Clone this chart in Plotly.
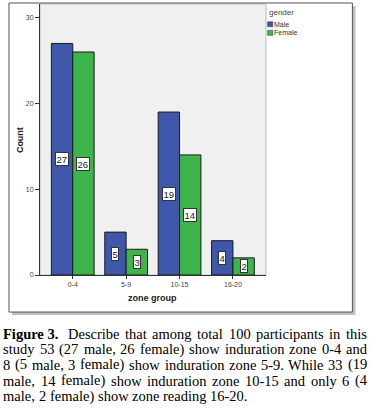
import plotly.graph_objects as go

# ---------------- data ----------------
zone_groups = ["0-4", "5-9", "10-15", "16-20"]
male_counts = [27, 5, 19, 4]
female_counts = [26, 3, 14, 2]
y_ticks = [0, 10, 20, 30]
series_names = ["Male", "Female"]
legend_title = "gender"
x_title = "zone group"
y_title = "Count"
caption_lines = [
    "Figure 3. Describe that among total 100 participants in this",
    "study 53 (27 male, 26 female) show induration zone 0-4 and",
    "8 (5 male, 3 female) show induration zone 5-9. While 33 (19",
    "male, 14 female) show induration zone 10-15 and only 6 (4",
    "male, 2 female) show zone reading 16-20.",
]

# ---------------- layout geometry (pixels) ----------------
W, H = 372, 409
PL, PR, PT, PB = 40, 265.7, 4, 274.7
BLUE = "#3E57AB"
GREEN = "#3DB54A"


def px(x):
    return (x - PL) / (PR - PL)


def py(y):
    return (PB - y) / (PB - PT)


fig = go.Figure()
fig.add_trace(go.Bar(x=zone_groups, y=male_counts, name=series_names[0],
                     marker=dict(color=BLUE, line=dict(color="#1a1a1a", width=1)),
                     showlegend=False, hoverinfo="x+y+name"))
fig.add_trace(go.Bar(x=zone_groups, y=female_counts, name=series_names[1],
                     marker=dict(color=GREEN, line=dict(color="#1a1a1a", width=1)),
                     showlegend=False, hoverinfo="x+y+name"))

shapes = []
# plot background
shapes.append(dict(type="rect", xref="paper", yref="paper", layer="below",
                   x0=0, x1=1, y0=0, y1=1,
                   fillcolor="#F0F0F0", line=dict(color="#BDBDBD", width=1)))
# frame shadow (right + bottom strips) and frame outline
FX0, FX1, FY0, FY1 = 9, 352, 3, 311.7
shapes.append(dict(type="rect", xref="paper", yref="paper", layer="above",
                   x0=px(FX1), x1=px(FX1 + 3), y0=py(FY0 + 3), y1=py(FY1 + 3),
                   fillcolor="rgba(0,0,0,0.25)", line=dict(width=0)))
shapes.append(dict(type="rect", xref="paper", yref="paper", layer="above",
                   x0=px(FX0 + 3), x1=px(FX1), y0=py(FY1), y1=py(FY1 + 3),
                   fillcolor="rgba(0,0,0,0.25)", line=dict(width=0)))
shapes.append(dict(type="rect", xref="paper", yref="paper", layer="above",
                   x0=px(FX0), x1=px(FX1), y0=py(FY0), y1=py(FY1),
                   fillcolor="rgba(0,0,0,0)", line=dict(color="#555555", width=1)))

annotations = []
# value labels
bar_half = 0.8 / 2 / 2  # half of one bar width in category units
cat_px = (PR - PL) / (3.619 + 0.613)
for vals, sh in ((male_counts, -1), (female_counts, 1)):
    for cat, v in zip(zone_groups, vals):
        annotations.append(dict(x=cat, y=v / 2, xref="x", yref="y",
                                xanchor="center", yanchor="middle",
                                xshift=sh * bar_half * cat_px,
                                text=str(v), showarrow=False,
                                font=dict(family="Liberation Sans Narrow, Arial Narrow, Liberation Sans, Arial",
                                          size=9.5, color="#222222"),
                                bgcolor="white", bordercolor="#333333",
                                borderwidth=1, borderpad=0.5))

# axis titles
annotations.append(dict(x=px(152.8), y=py(298), xref="paper", yref="paper",
                        xanchor="center", yanchor="middle",
                        text="<b>%s</b>" % x_title, showarrow=False,
                        font=dict(family="Liberation Sans, Arial", size=9, color="#222222")))
annotations.append(dict(x=px(20), y=py(140), xref="paper", yref="paper",
                        xanchor="center", yanchor="middle",
                        text="<b>%s</b>" % y_title, showarrow=False, textangle=-90,
                        font=dict(family="Liberation Sans, Arial", size=9, color="#222222")))

# legend (custom, small swatches)
annotations.append(dict(x=px(267), y=py(12.8), xref="paper", yref="paper",
                        xanchor="left", yanchor="middle",
                        text=legend_title, showarrow=False,
                        font=dict(family="Liberation Sans, Arial", size=8, color="#444444")))
for i, (nm, col) in enumerate(zip(series_names, [BLUE, GREEN])):
    y0 = 21.7 + i * 8.6
    shapes.append(dict(type="rect", xref="paper", yref="paper", layer="above",
                       x0=px(267.3), x1=px(272.5), y0=py(y0), y1=py(y0 + 5),
                       fillcolor=col, line=dict(color="#333333", width=0.5)))
    annotations.append(dict(x=px(272.6), y=py(y0 + 2.5), xref="paper", yref="paper",
                            xanchor="left", yanchor="middle", text=nm, showarrow=False,
                            borderpad=0,
                            font=dict(family="Liberation Sans, Arial", size=7, color="#333333")))

# caption: justified lines placed word by word
TW = {" ": 250, "(": 333, ")": 333, ",": 250, "-": 333, ".": 250,
      "a": 444, "b": 500, "c": 444, "d": 500, "e": 444, "f": 333, "g": 500, "h": 500,
      "i": 278, "j": 278, "k": 500, "l": 278, "m": 778, "n": 500, "o": 500, "p": 500,
      "q": 500, "r": 333, "s": 389, "t": 278, "u": 500, "v": 500, "w": 722, "x": 500,
      "y": 500, "z": 444, "D": 722, "F": 556, "W": 944}
TWB = {"F": 611, "i": 278, "g": 500, "u": 556, "r": 444, "e": 444, "3": 500, ".": 250}
FS = 14.5
CAP_L, CAP_R = 3.5, 366.5
baselines = [337.5, 353.2, 368.8, 384.4, 400.0]


def wlen(word, bold=False):
    tab = TWB if bold else TW
    return sum(tab.get(c, 500) for c in word) * FS / 1000


for li, line in enumerate(caption_lines):
    words = line.split(" ")
    items = []
    if li == 0:
        items.append(("<b>Figure 3.</b>", wlen("Figure", True) + wlen(" ", True) + wlen("3.", True)))
        words = words[2:]
    items += [(w, wlen(w)) for w in words]
    last = li == len(caption_lines) - 1
    if last:
        gap = FS * 0.25
    else:
        gap = (CAP_R - CAP_L - sum(w for _, w in items)) / (len(items) - 1)
    x = CAP_L
    for txt, wd in items:
        annotations.append(dict(x=px(x), y=py(baselines[li] - 4.3), xref="paper", yref="paper",
                                xanchor="left", yanchor="middle", text=txt, showarrow=False,
                                borderpad=0, borderwidth=0,
                                font=dict(family="Liberation Serif, Times New Roman, serif",
                                          size=FS, color="#000000")))
        x += wd + gap

fig.update_layout(
    width=W, height=H,
    margin=dict(l=PL, r=W - PR, t=PT, b=H - PB, pad=0, autoexpand=False),
    paper_bgcolor="white", plot_bgcolor="rgba(0,0,0,0)",
    barmode="group", bargap=0.2, bargroupgap=0,
    shapes=shapes, annotations=annotations, showlegend=False,
    font=dict(family="Liberation Sans, Arial"),
)
fig.update_xaxes(range=[-0.613, 3.619], showgrid=False, zeroline=False,
                 showline=True, linecolor="#333333", linewidth=1,
                 ticks="outside", ticklen=3, tickcolor="#333333",
                 tickfont=dict(size=7, color="#444444"), fixedrange=True, automargin=False)
fig.update_yaxes(range=[0, 31.6], tickvals=y_ticks, showgrid=False, zeroline=False,
                 showline=True, linecolor="#333333", linewidth=1,
                 ticks="outside", ticklen=4, tickcolor="#333333",
                 tickfont=dict(size=7, color="#444444"), fixedrange=True, automargin=False)

fig.write_html("out.html", config={"displayModeBar": False},
               post_script="document.body.style.margin='0';document.body.style.padding='0';")
